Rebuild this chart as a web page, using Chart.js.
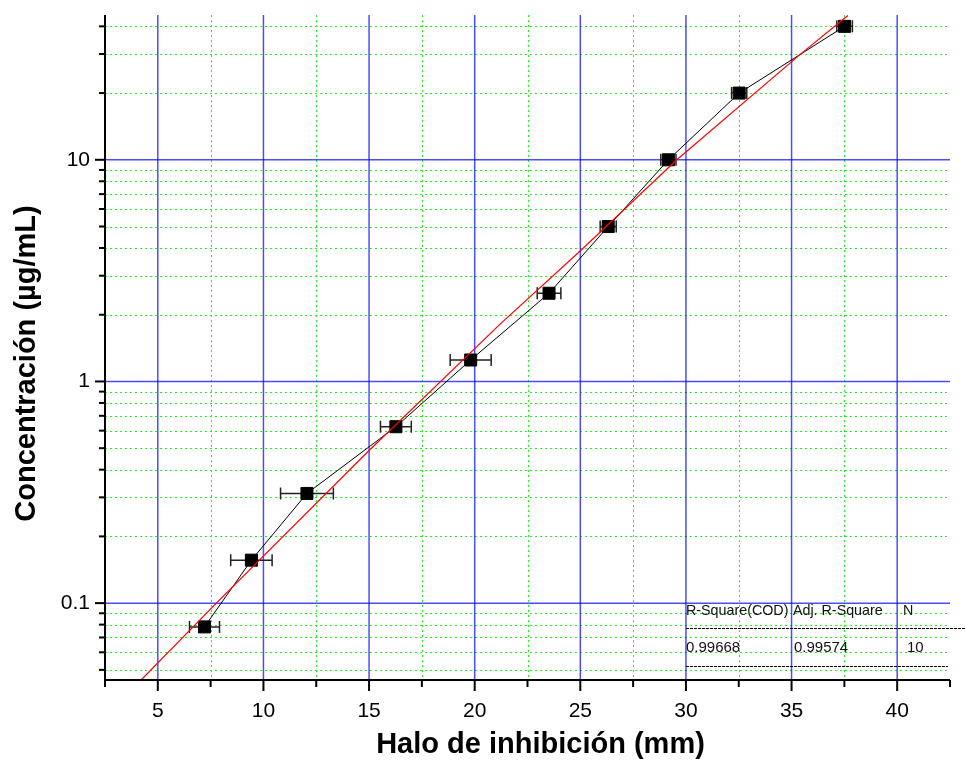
<!DOCTYPE html>
<html>
<head>
<meta charset="utf-8">
<script src="https://cdn.jsdelivr.net/npm/chart.js@4.4.0/dist/chart.umd.min.js"></script>
<style>
html, body { margin: 0; padding: 0; background: #fff; }
</style>
</head>
<body>
<canvas id="curva" width="965" height="769"></canvas>
<script>
// datos
var concentracion = [0.078125, 0.15625, 0.3125, 0.625, 1.25, 2.5, 5, 10, 20, 40];
var halo = [7.21, 9.43, 12.06, 16.27, 19.81, 23.52, 26.32, 29.17, 32.52, 37.51];
var haloError = [0.71, 0.98, 1.25, 0.73, 0.97, 0.56, 0.38, 0.36, 0.36, 0.37];

// curva de ajuste (roja)
var ajusteHalo = [4.21, 7.77, 15.0, 21.19, 24.98, 29.57, 35.41, 37.67];
var ajusteConc = [0.045, 0.1, 0.488, 1.81, 3.87, 10, 29.9, 44.8];

// ticks
var xTicks = [5, 10, 15, 20, 25, 30, 35, 40];
var xMinor = [2.5, 7.5, 12.5, 17.5, 22.5, 27.5, 32.5, 37.5, 42.5];
var yTicks = [0.1, 1, 10];
var yMinor = [0.05, 0.06, 0.07, 0.08, 0.09, 0.2, 0.3, 0.4, 0.5, 0.6, 0.7, 0.8, 0.9,
              2, 3, 4, 5, 6, 7, 8, 9, 20, 30, 40];

var tituloX = 'Halo de inhibición (mm)';
var tituloY = 'Concentración (µg/mL)';

// tabla del ajuste
var tablaTitulos = ["R-Square(COD)", "Adj. R-Square", "N"];
var tablaValores = ["0.99668", "0.99574", "10"];

var fuente = '"Liberation Sans", Arial, sans-serif';

function px(v) { return Math.round(v) + 0.5; }

// rejilla (verde punteada y azul) + barras de error
var rejilla = {
  id: 'rejilla',
  beforeDatasetsDraw: function(chart) {
    var ctx = chart.ctx, a = chart.chartArea;
    var xs = chart.scales.x, ys = chart.scales.y;
    ctx.save();
    ctx.strokeStyle = '#22ee22';
    ctx.lineWidth = 1;
    ctx.setLineDash([2, 3]);
    xMinor.forEach(function(v) {
      if (v <= xs.min || v >= xs.max) return;
      var p = px(xs.getPixelForValue(v));
      ctx.beginPath(); ctx.moveTo(p, a.top); ctx.lineTo(p, a.bottom); ctx.stroke();
    });
    yMinor.forEach(function(v) {
      var p = px(ys.getPixelForValue(v));
      ctx.beginPath(); ctx.moveTo(a.left, p); ctx.lineTo(a.right, p); ctx.stroke();
    });
    ctx.setLineDash([]);
    ctx.strokeStyle = 'rgba(0,0,255,0.7)';
    ctx.lineWidth = 1.5;
    xTicks.forEach(function(v) {
      var p = xs.getPixelForValue(v);
      ctx.beginPath(); ctx.moveTo(p, a.top); ctx.lineTo(p, a.bottom); ctx.stroke();
    });
    yTicks.forEach(function(v) {
      var p = ys.getPixelForValue(v);
      ctx.beginPath(); ctx.moveTo(a.left, p); ctx.lineTo(a.right, p); ctx.stroke();
    });

    ctx.strokeStyle = '#222';
    ctx.lineWidth = 1.5;
    halo.forEach(function(h, i) {
      var y = ys.getPixelForValue(concentracion[i]);
      var x1 = xs.getPixelForValue(h - haloError[i]);
      var x2 = xs.getPixelForValue(h + haloError[i]);
      ctx.beginPath();
      ctx.moveTo(x1, y); ctx.lineTo(x2, y);
      ctx.moveTo(x1, y - 6); ctx.lineTo(x1, y + 6);
      ctx.moveTo(x2, y - 6); ctx.lineTo(x2, y + 6);
      ctx.stroke();
    });
    ctx.restore();
  }
};

// ejes, marcas, titulos y tabla
var ejes = {
  id: 'ejes',
  afterDraw: function(chart) {
    var ctx = chart.ctx, a = chart.chartArea;
    var xs = chart.scales.x, ys = chart.scales.y;
    ctx.save();
    ctx.strokeStyle = '#000';
    ctx.lineWidth = 2;
    ctx.beginPath();
    ctx.moveTo(a.left, a.top); ctx.lineTo(a.left, a.bottom); ctx.lineTo(a.right, a.bottom);
    ctx.stroke();
    xTicks.forEach(function(v) {
      var p = xs.getPixelForValue(v);
      ctx.beginPath(); ctx.moveTo(p, a.bottom); ctx.lineTo(p, a.bottom + 11); ctx.stroke();
    });
    xMinor.forEach(function(v) {
      var p = xs.getPixelForValue(v);
      ctx.beginPath(); ctx.moveTo(p, a.bottom); ctx.lineTo(p, a.bottom + 7); ctx.stroke();
    });
    yTicks.forEach(function(v) {
      var p = ys.getPixelForValue(v);
      ctx.beginPath(); ctx.moveTo(a.left, p); ctx.lineTo(a.left - 10, p); ctx.stroke();
    });
    yMinor.forEach(function(v) {
      var p = ys.getPixelForValue(v);
      ctx.beginPath(); ctx.moveTo(a.left, p); ctx.lineTo(a.left - 6, p); ctx.stroke();
    });

    // titulos de los ejes
    ctx.fillStyle = '#000';
    ctx.textAlign = 'center';
    ctx.textBaseline = 'middle';
    ctx.font = 'bold 29px ' + fuente;
    ctx.fillText(tituloX, (a.left + a.right) / 2 + 13, a.bottom + 65);
    ctx.save();
    ctx.translate(27, (a.top + a.bottom) / 2 + 16);
    ctx.rotate(-Math.PI / 2);
    ctx.fillText(tituloY, 0, 0);
    ctx.restore();

    // tabla
    var x0 = xs.getPixelForValue(30);
    var y0 = ys.getPixelForValue(0.1);
    var cols = [x0, x0 + 107, x0 + 217];
    var colsVal = [x0, x0 + 108, x0 + 221];
    ctx.textAlign = 'left';
    ctx.textBaseline = 'alphabetic';
    ctx.fillStyle = '#111';
    ctx.font = '14.3px ' + fuente;
    tablaTitulos.forEach(function(t, i) { ctx.fillText(t, cols[i], y0 + 12); });
    ctx.font = '15px ' + fuente;
    tablaValores.forEach(function(t, i) { ctx.fillText(t, colsVal[i], y0 + 49); });
    ctx.lineWidth = 1;
    ctx.strokeStyle = '#000';
    ctx.setLineDash([3, 1]);
    ctx.beginPath();
    ctx.moveTo(x0, px(y0 + 25)); ctx.lineTo(965, px(y0 + 25));
    ctx.moveTo(x0, px(y0 + 63)); ctx.lineTo(a.right - 2, px(y0 + 63));
    ctx.stroke();
    ctx.restore();
  }
};

var ctx = document.getElementById('curva').getContext('2d');
var grafica = new Chart(ctx, {
  type: 'scatter',
  data: {
    datasets: [{
      label: 'Ajuste',
      data: ajusteHalo.map(function(v, i) { return {x: v, y: ajusteConc[i]}; }),
      showLine: true,
      borderColor: '#ff0000',
      borderWidth: 1.2,
      pointRadius: 0,
      order: 0
    }, {
      label: 'Concentración',
      data: halo.map(function(v, i) { return {x: v, y: concentracion[i]}; }),
      showLine: true,
      borderColor: '#000',
      borderWidth: 1,
      pointStyle: 'rect',
      pointRadius: 8.5,
      pointBackgroundColor: '#000',
      pointBorderColor: '#000',
      pointBorderWidth: 1,
      order: 1
    }]
  },
  options: {
    responsive: false,
    animation: false,
    devicePixelRatio: 1,
    layout: { padding: { top: 15, right: 15, left: 0, bottom: 0 } },
    plugins: { legend: { display: false }, tooltip: { enabled: false } },
    scales: {
      x: {
        type: 'linear',
        min: 2.5,
        max: 42.5,
        afterBuildTicks: function(s) { s.ticks = xTicks.map(function(v) { return {value: v}; }); },
        afterFit: function(s) { s.height = 89; s.paddingLeft = 0; s.paddingRight = 0; },
        grid: { display: false, drawTicks: false },
        border: { display: false },
        ticks: { color: '#000', font: { family: fuente, size: 21 }, padding: 19, maxRotation: 0, autoSkip: false },
        title: { display: false }
      },
      y: {
        type: 'logarithmic',
        min: 0.045,
        max: 45,
        afterBuildTicks: function(s) { s.ticks = yTicks.map(function(v) { return {value: v}; }); },
        afterFit: function(s) { s.width = 105; s.paddingTop = 0; s.paddingBottom = 0; },
        grid: { display: false, drawTicks: false },
        border: { display: false },
        ticks: {
          color: '#000', font: { family: fuente, size: 21 }, padding: 15, autoSkip: false,
          callback: function(v) { return String(v); }
        },
        title: { display: false }
      }
    }
  },
  plugins: [rejilla, ejes]
});
</script>
</body>
</html>
